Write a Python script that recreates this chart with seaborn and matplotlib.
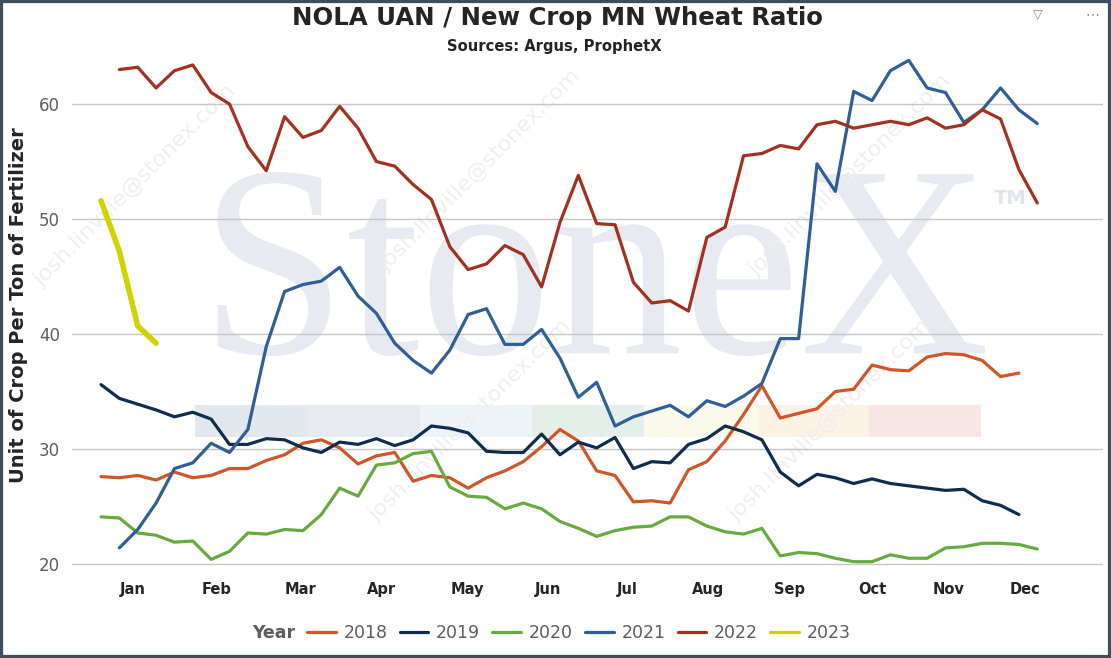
import numpy as np
import pandas as pd
import matplotlib
matplotlib.use("Agg")
import matplotlib.pyplot as plt
import seaborn as sns
from matplotlib.textpath import TextPath
from matplotlib.font_manager import FontProperties
from matplotlib.patches import PathPatch, Rectangle
from matplotlib.lines import Line2D
from matplotlib.path import Path

# ---------------- data ----------------
years = ["2018", "2019", "2020", "2021", "2022", "2023"]
first_week = [1, 1, 1, 2, 2, 1]

v2018 = [27.6, 27.5, 27.7, 27.3, 28.0, 27.5, 27.7, 28.3, 28.3, 29.0,
         29.5, 30.5, 30.8, 30.1, 28.7, 29.4, 29.7, 27.2, 27.7, 27.5,
         26.6, 27.5, 28.1, 28.9, 30.2, 31.7, 30.7, 28.1, 27.7, 25.4,
         25.5, 25.3, 28.2, 28.9, 30.7, 33.0, 35.5, 32.7, 33.1, 33.5,
         35.0, 35.2, 37.3, 36.9, 36.8, 38.0, 38.3, 38.2, 37.7, 36.3,
         36.6]
v2019 = [35.6, 34.4, 33.9, 33.4, 32.8, 33.2, 32.6, 30.4, 30.4, 30.9,
         30.8, 30.1, 29.7, 30.6, 30.4, 30.9, 30.3, 30.8, 32.0, 31.8,
         31.4, 29.8, 29.7, 29.7, 31.3, 29.5, 30.6, 30.1, 31.0, 28.3,
         28.9, 28.8, 30.4, 30.9, 32.0, 31.5, 30.8, 28.0, 26.8, 27.8,
         27.5, 27.0, 27.4, 27.0, 26.8, 26.6, 26.4, 26.5, 25.5, 25.1,
         24.3]
v2020 = [24.1, 24.0, 22.7, 22.5, 21.9, 22.0, 20.4, 21.1, 22.7, 22.6,
         23.0, 22.9, 24.3, 26.6, 25.9, 28.6, 28.8, 29.6, 29.8, 26.7,
         25.9, 25.8, 24.8, 25.3, 24.8, 23.7, 23.1, 22.4, 22.9, 23.2,
         23.3, 24.1, 24.1, 23.3, 22.8, 22.6, 23.1, 20.7, 21.0, 20.9,
         20.5, 20.2, 20.2, 20.8, 20.5, 20.5, 21.4, 21.5, 21.8, 21.8,
         21.7, 21.3]
v2021 = [21.4, 23.0, 25.3, 28.3, 28.8, 30.5, 29.7, 31.7, 38.9, 43.7,
         44.3, 44.6, 45.8, 43.3, 41.8, 39.2, 37.7, 36.6, 38.6, 41.7,
         42.2, 39.1, 39.1, 40.4, 37.9, 34.5, 35.8, 32.0, 32.8, 33.3,
         33.8, 32.8, 34.2, 33.7, 34.6, 35.7, 39.6, 39.6, 54.8, 52.4,
         61.1, 60.3, 62.9, 63.8, 61.4, 61.0, 58.4, 59.5, 61.4, 59.5,
         58.3]
v2022 = [63.0, 63.2, 61.4, 62.9, 63.4, 61.0, 60.0, 56.3, 54.2, 58.9,
         57.1, 57.7, 59.8, 57.9, 55.0, 54.6, 53.0, 51.7, 47.6, 45.6,
         46.1, 47.7, 46.9, 44.1, 49.7, 53.8, 49.6, 49.5, 44.5, 42.7,
         42.9, 42.0, 48.4, 49.3, 55.5, 55.7, 56.4, 56.1, 58.2, 58.5,
         57.9, 58.2, 58.5, 58.2, 58.8, 57.9, 58.2, 59.5, 58.7, 54.3,
         51.4]
v2023 = [51.6, 47.2, 40.7, 39.2]

months = ["Jan", "Feb", "Mar", "Apr", "May", "Jun",
          "Jul", "Aug", "Sep", "Oct", "Nov", "Dec"]
y_ticks = [20, 30, 40, 50, 60]

series = [v2018, v2019, v2020, v2021, v2022, v2023]
frames = []
for yr, fw, vals in zip(years, first_week, series):
    frames.append(pd.DataFrame({"Week": np.arange(fw, fw + len(vals)),
                                "Ratio": vals, "Year": yr}))
df = pd.concat(frames, ignore_index=True)

# ---------------- style ----------------
palette = {"2018": "#CF5628", "2019": "#0F2D4D", "2020": "#68AA40",
           "2021": "#2F5F96", "2022": "#A2311F", "2023": "#D2D200"}
widths = {"2018": 2.3, "2019": 2.3, "2020": 2.3, "2021": 2.3,
          "2022": 2.3, "2023": 4.0}

sns.set_style("white")
plt.rcParams["font.family"] = ["DejaVu Sans"]

W, H = 1111, 658
fig = plt.figure(figsize=(W / 100, H / 100), dpi=100)
fig.patch.set_facecolor("white")


def fx(px):
    return px / W


def fy(py):
    return 1 - py / H


ax_l, ax_r, ax_t, ax_b = 72, 1103, 50, 575.5
ax = fig.add_axes([fx(ax_l), fy(ax_b), fx(ax_r - ax_l), (ax_b - ax_t) / H])
ax.set_facecolor("none")

# ---------------- background watermark ----------------
wm_color = "#e7eaf0"
tp = TextPath((0, 0), "StoneX", size=100,
              prop=FontProperties(family="Liberation Serif"))
verts = tp.vertices.copy()
x0, y0 = verts[:, 0].min(), verts[:, 1].min()
x1, y1 = verts[:, 0].max(), verts[:, 1].max()
bx0, bx1, by_top, by_bot = 200, 985, 172, 356
nx = bx0 + (verts[:, 0] - x0) / (x1 - x0) * (bx1 - bx0)
ny = by_bot - (verts[:, 1] - y0) / (y1 - y0) * (by_bot - by_top)
new_path = Path(np.column_stack([nx / W, 1 - ny / H]), tp.codes)
fig.patches.append(PathPatch(new_path, transform=fig.transFigure,
                             facecolor=wm_color, edgecolor="none", zorder=-5))
fig.text(fx(1010), fy(198), "TM", fontsize=14, fontweight="bold",
         color="#e1e4ea", ha="center", va="center", zorder=-5)

band_colors = ["#e3e8ef", "#e7ebf1", "#eef3f8", "#e5efe9",
               "#fafaea", "#fdf3e5", "#f8e6e6"]
seg_edges = [195, 307, 420, 532, 644, 757, 869, 981]
for i, c in enumerate(band_colors):
    fig.patches.append(Rectangle((fx(seg_edges[i]), fy(437)),
                                 fx(seg_edges[i + 1] - seg_edges[i]), 32 / H,
                                 transform=fig.transFigure, facecolor=c,
                                 edgecolor="none", zorder=-5))

email_pos = [(135, 185), (470, 420), (830, 420), (480, 170), (850, 175)]
for (px, py) in email_pos:
    fig.text(fx(px), fy(py), "josh.linville@stonex.com", rotation=45,
             fontsize=16, color="#efefef", ha="center", va="center",
             zorder=-4)

# ---------------- lines ----------------
for yr in years:
    sub = df[df["Year"] == yr]
    sns.lineplot(data=sub, x="Week", y="Ratio", ax=ax, color=palette[yr],
                 linewidth=widths[yr], estimator=None, sort=True,
                 legend=False, solid_capstyle="round", zorder=3)

# ---------------- axes ----------------
ax.set_xlim(-0.58, 55.58)
ax.set_ylim(19, 64.7)
month_pos = [2.74, 7.32, 11.84, 16.3, 20.93, 25.35,
             29.65, 34.06, 38.53, 43.0, 47.18, 51.32]
ax.set_xticks(month_pos)
ax.set_xticklabels(months, fontsize=10.5, fontweight="bold", color="#252423")
ax.set_yticks(y_ticks)
ax.set_yticklabels([str(t) for t in y_ticks], fontsize=12, color="#605e5c")
ax.tick_params(axis="x", length=0, pad=5)
ax.tick_params(axis="y", length=0, pad=8.5)
ax.grid(axis="y", color="#c8c6c4", linewidth=1.0)
ax.grid(axis="x", visible=False)
ax.set_axisbelow(True)
for s in ax.spines.values():
    s.set_visible(False)
ax.set_xlabel("")
ax.set_ylabel("Unit of Crop Per Ton of Fertilizer", fontsize=14,
              fontweight="bold", color="#252423")
ax.yaxis.set_label_coords((28 - ax_l) / (ax_r - ax_l), 0.515)

# ---------------- titles ----------------
fig.text(fx(557), fy(18), "NOLA UAN / New Crop MN Wheat Ratio",
         fontsize=17.6, fontweight="bold", color="#252423",
         ha="center", va="center")
fig.text(fx(554), fy(47), "Sources: Argus, ProphetX", fontsize=10.6,
         fontweight="bold", color="#252423", ha="center", va="center")

# top-right icons
fig.text(fx(1038), fy(14), "\u25bd", fontsize=9, color="#8a8886",
         ha="center", va="center")
fig.text(fx(1092), fy(14), "\u22ef", fontsize=10, color="#8a8886",
         ha="center", va="center")

# ---------------- legend ----------------
handles = [Line2D([0], [0], color=palette[yr], linewidth=2.3) for yr in years]
fig.text(fx(252), fy(633), "Year", fontsize=12.5, fontweight="bold",
         color="#605e5c", ha="left", va="center")
fig.legend(handles, years, loc="center left",
           bbox_to_anchor=(fx(307), fy(633)), ncol=6, frameon=False,
           fontsize=12.5, labelcolor="#605e5c", handlelength=1.65,
           handletextpad=0.45, columnspacing=0.7, borderpad=0,
           borderaxespad=0)

# ---------------- frame ----------------
fig.patches.append(Rectangle((0, 0), 1, 1, transform=fig.transFigure,
                             fill=False, edgecolor="#3d4f5d", linewidth=4.5,
                             zorder=10))

fig.savefig("out.png", dpi=100, facecolor="white")
